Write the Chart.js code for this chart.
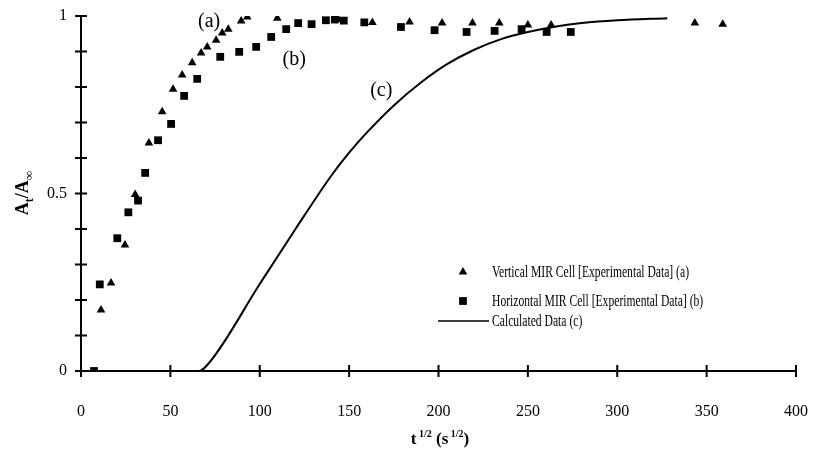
<!DOCTYPE html>
<html lang="en">
<head>
<meta charset="UTF-8">
<title>At/Ainf vs t^1/2</title>
<script src="https://cdn.jsdelivr.net/npm/chart.js@4.4.1/dist/chart.umd.min.js"></script>
<style>
    html,body{margin:0;padding:0;background:#fff;}
    #wrap{width:814px;height:455px;position:relative;}
</style>
</head>
<body>
<div id="wrap"><canvas id="chart"></canvas></div>
<script>
    // (a) vertical MIR cell, experimental
    const vertX=[11.2,16.8,24.6,30.3,38,45.4,51.5,56.6,62.2,67.2,70.6,75.6,79,82.4,89.6,93,109.8,144,163,183.8,202,219,234,250,263,343.4,359];
    const vertY=[0.172,0.248,0.355,0.497,0.642,0.73,0.794,0.834,0.868,0.896,0.913,0.932,0.952,0.963,0.986,0.997,0.994,0.99,0.982,0.983,0.98,0.98,0.98,0.975,0.975,0.98,0.977];

    // (b) horizontal MIR cell, experimental
    const horizX=[7.3,10.5,20.3,26.5,31.9,35.9,43.1,50.4,57.7,65,77.9,88.5,98,106.4,114.8,121.5,129,137,142,147,158.5,179,197.8,215.7,231.4,246.5,260.5,274];
    const horizY=[0,0.244,0.374,0.447,0.48,0.558,0.65,0.696,0.775,0.823,0.885,0.899,0.913,0.941,0.963,0.98,0.977,0.988,0.99,0.987,0.982,0.969,0.96,0.955,0.958,0.963,0.955,0.955];

    // (c) calculated
    const calcX=[60,66,72,100,120,140,150,160,175,190,205,220,235,250,265,280,300,328];
    const calcY=[0,0,0.025,0.245,0.4,0.55,0.615,0.672,0.748,0.812,0.865,0.905,0.935,0.955,0.97,0.98,0.988,0.994];

    const yTickLabels={0:"0",0.5:"0.5",1:"1"};
    const legendLabels=[
        "Vertical MIR Cell [Experimental Data] (a)",
        "Horizontal MIR Cell [Experimental Data] (b)",
        "Calculated Data (c)"
    ];
    const curveTags=["(a)","(b)","(c)"];
    const tagX=[71.7,119.3,168];
    const tagY=[0.983,0.876,0.79];

    const SERIF="'Liberation Serif','Times New Roman',serif";

    const toPts=(xs,ys)=>xs.map((x,i)=>({x,y:ys[i]}));

    // ticks crossing the axis + titles, labels and legend
    const overlay={
        id:"overlay",
        afterDraw(chart){
            const ctx=chart.ctx;
            const xs=chart.scales.x, ys=chart.scales.y;
            const x0=ys.right, y0=xs.top;
            ctx.save();
            ctx.strokeStyle="#000";
            ctx.lineWidth=2;
            ctx.beginPath();
            for(const t of xs.ticks){
                const px=xs.getPixelForValue(t.value);
                ctx.moveTo(px,y0-6); ctx.lineTo(px,y0+6);
            }
            for(const t of ys.ticks){
                const py=ys.getPixelForValue(t.value);
                ctx.moveTo(x0-6,py); ctx.lineTo(x0+6,py);
            }
            ctx.stroke();

            // (a) (b) (c)
            ctx.fillStyle="#000";
            ctx.font="20px "+SERIF;
            ctx.textAlign="center";
            ctx.textBaseline="middle";
            curveTags.forEach((s,i)=>{
                ctx.fillText(s,xs.getPixelForValue(tagX[i]),ys.getPixelForValue(tagY[i]));
            });

            // legend
            ctx.font="16px "+SERIF;
            ctx.textAlign="left";
            const sx=197/ctx.measureText(legendLabels[0]).width;
            const rows=[272,301,321];
            Chart.helpers.drawPoint(ctx,{pointStyle:"triangle",radius:5,borderWidth:0},463,rows[0]);
            Chart.helpers.drawPoint(ctx,{pointStyle:"rect",radius:5.5,borderWidth:0},463,rows[1]);
            ctx.fillStyle="#000";
            ctx.beginPath();
            ctx.lineWidth=1.5;
            ctx.moveTo(438,rows[2]); ctx.lineTo(489,rows[2]);
            ctx.stroke();
            legendLabels.forEach((s,i)=>{
                ctx.save();
                ctx.translate(492,rows[i]+1);
                ctx.scale(sx,1);
                ctx.fillText(s,0,0);
                ctx.restore();
            });

            // x title: t^1/2 (s^1/2)
            drawRich(ctx,[["t",17,0],[" 1/2",10,-7],[" (s",17,0],[" 1/2",10,-7],[")",17,0]],440,438,0);
            // y title: A_t/A_inf, rotated
            drawRich(ctx,[["A",18,0],["t",12,5],["/A",18,0],["\u221E",13,5]],22,193,-Math.PI/2);
            ctx.restore();
        }
    };

    function drawRich(ctx,parts,cx,cy,rot){
        ctx.save();
        ctx.translate(cx,cy);
        ctx.rotate(rot);
        ctx.textAlign="left";
        ctx.textBaseline="alphabetic";
        let w=0;
        for(const [s,size] of parts){ ctx.font="bold "+size+"px "+SERIF; w+=ctx.measureText(s).width; }
        let x=-w/2;
        for(const [s,size,dy] of parts){
            ctx.font="bold "+size+"px "+SERIF;
            ctx.fillText(s,x,6+dy);
            x+=ctx.measureText(s).width;
        }
        ctx.restore();
    }

    new Chart(document.getElementById("chart"),{
        type:"scatter",
        data:{
            datasets:[
                {
                    label:legendLabels[0],
                    data:toPts(vertX,vertY),
                    pointStyle:"triangle",
                    pointRadius:5,
                    backgroundColor:"#000",
                    borderColor:"#000",
                    borderWidth:0,
                    showLine:false
                },
                {
                    label:legendLabels[1],
                    data:toPts(horizX,horizY),
                    pointStyle:"rect",
                    pointRadius:5.5,
                    backgroundColor:"#000",
                    borderColor:"#000",
                    borderWidth:0,
                    showLine:false
                },
                {
                    label:legendLabels[2],
                    data:toPts(calcX,calcY),
                    showLine:true,
                    pointRadius:0,
                    borderColor:"#000",
                    borderWidth:2,
                    cubicInterpolationMode:"monotone",
                    fill:false
                }
            ]
        },
        options:{
            responsive:true,
            maintainAspectRatio:false,
            animation:false,
            events:[],
            layout:{padding:{top:16,right:18,left:0,bottom:0}},
            plugins:{legend:{display:false},tooltip:{enabled:false}},
            scales:{
                x:{
                    type:"linear",
                    min:0,max:400,
                    border:{display:true,color:"#000",width:2},
                    grid:{drawOnChartArea:false,drawTicks:false},
                    ticks:{stepSize:50,color:"#000",font:{family:SERIF,size:16},padding:31,maxRotation:0},
                    afterFit(s){ s.height=84; s.paddingLeft=0; s.paddingRight=0; }
                },
                y:{
                    min:0,max:1,
                    border:{display:true,color:"#000",width:2},
                    grid:{drawOnChartArea:false,drawTicks:false},
                    ticks:{
                        stepSize:0.1,color:"#000",font:{family:SERIF,size:16},padding:14,
                        callback:v=>{
                            const k=Math.round(v*10)/10;
                            return yTickLabels[k]!==undefined?yTickLabels[k]:"";
                        }
                    },
                    afterFit(s){ s.width=81; s.paddingTop=0; s.paddingBottom=0; }
                }
            }
        },
        plugins:[overlay]
    });
</script>
</body>
</html>
